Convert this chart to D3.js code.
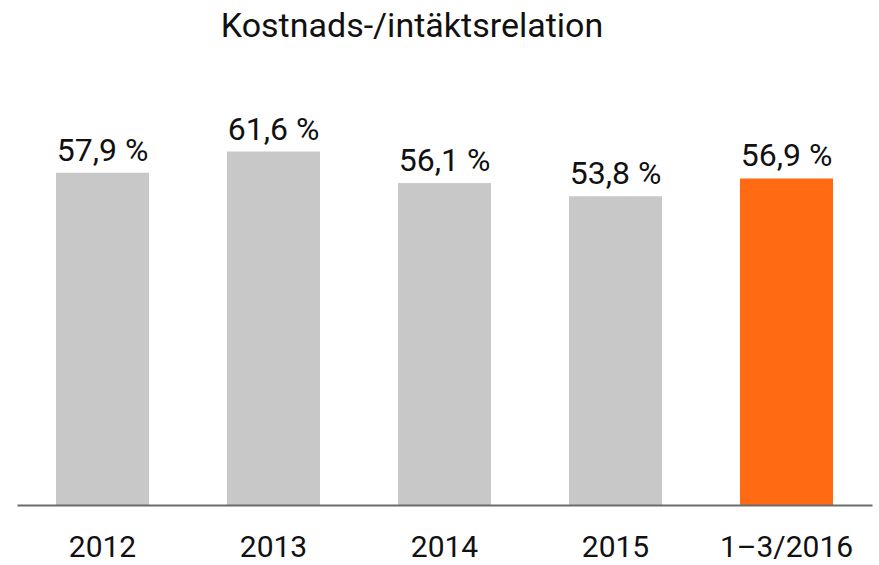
<!DOCTYPE html>
<html>
<head>
<meta charset="utf-8">
<script src="https://cdn.jsdelivr.net/npm/d3@7"></script>
<style>
  body { margin: 0; background: #fff; }
  svg text { font-family: "Liberation Sans Narrow", Roboto, "Noto Sans", sans-serif; fill: #111; }
</style>
</head>
<body>
<svg id="chart" width="879" height="565"></svg>
<script>
// data
const categories = ["2012", "2013", "2014", "2015", "1\u20133/2016"];
const values = [57.9, 61.6, 56.1, 53.8, 56.9];
const highlight = [false, false, false, false, true];

const svg = d3.select("#chart");

const x = d3.scaleBand()
    .domain(categories)
    .range([17, 872])
    .paddingInner(0.456)
    .paddingOuter(0.228);

const y = d3.scaleLinear()
    .domain([0, 88])
    .range([505, 0]);

// title
svg.append("text")
    .attr("x", 412)
    .attr("y", 37)
    .attr("text-anchor", "middle")
    .style("font-size", "34px")
    .text("Kostnads-/intäktsrelation");

// bars
svg.selectAll("rect.bar")
    .data(values)
    .enter()
    .append("rect")
    .attr("class", "bar")
    .attr("x", (d, i) => x(categories[i]))
    .attr("y", d => y(d))
    .attr("width", x.bandwidth())
    .attr("height", d => y(0) - y(d))
    .attr("fill", (d, i) => highlight[i] ? "#ff6a13" : "#c8c8c8");

// value labels
svg.selectAll("text.val")
    .data(values)
    .enter()
    .append("text")
    .attr("class", "val")
    .attr("x", (d, i) => x(categories[i]) + x.bandwidth() / 2)
    .attr("y", d => y(d) - 12)
    .attr("text-anchor", "middle")
    .style("font-size", "32px")
    .text(d => d.toFixed(1).replace(".", ",") + " %");

// x axis
const xAxis = svg.append("g")
    .attr("transform", `translate(0,${y(0)})`)
    .call(d3.axisBottom(x).tickSize(0).tickPadding(0));
xAxis.select(".domain").attr("stroke", "#6b6b6b").attr("stroke-width", 2);
xAxis.selectAll("text")
    .attr("y", 52)
    .attr("dy", null)
    .style("font-size", "30px")
    .attr("fill", "#111");
</script>
</body>
</html>
